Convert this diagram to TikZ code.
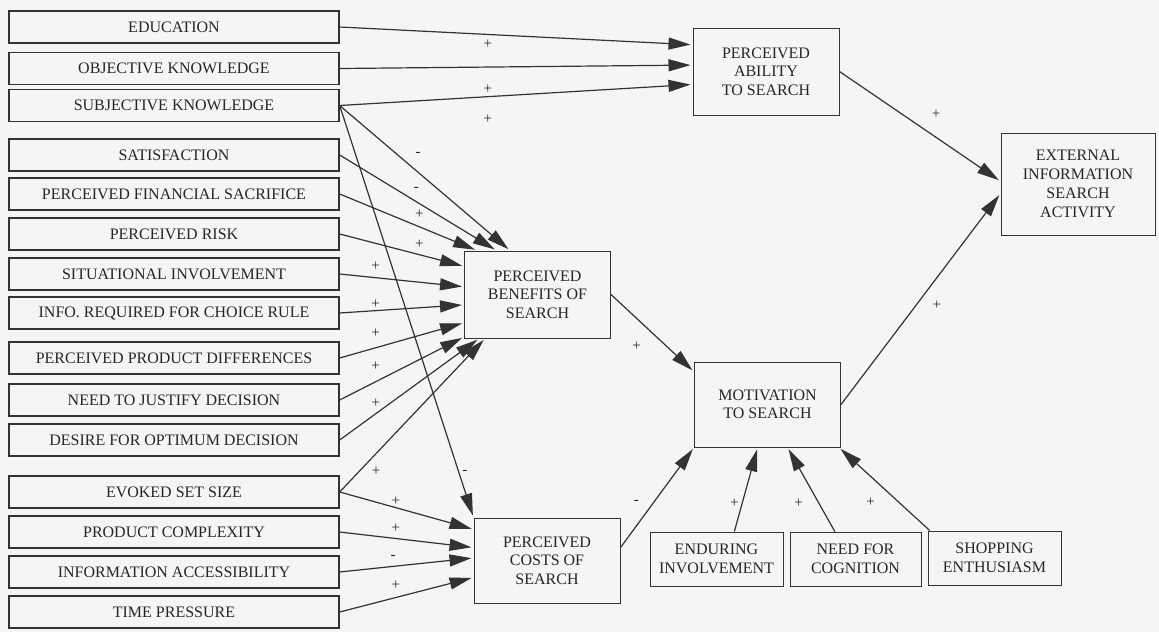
\documentclass[tikz,border=0pt]{standalone}
\usepackage{fontspec}
\setmainfont{Liberation Serif}
\usetikzlibrary{arrows.meta}

\begin{document}
\begin{tikzpicture}[x=1pt, y=-1pt,
	lb/.style={draw=black!80, line width=1.3pt, minimum width=330pt, minimum height=32pt, inner sep=0pt, text=black!85, font=\fontsize{16}{18.5}\selectfont},
	mb/.style={draw=black!80, line width=1pt, minimum width=146pt, minimum height=86pt, inner sep=0pt, align=center, text=black!85, font=\fontsize{16}{18.5}\selectfont},
	sb/.style={draw=black!80, line width=1pt, minimum width=133pt, minimum height=54pt, inner sep=0pt, align=center, text=black!85, font=\fontsize{16}{19.5}\selectfont},
	s/.style={inner sep=0pt, text=black!85, font=\fontsize{15}{15}\selectfont},
	a/.style={-{Triangle[length=22pt,width=12pt]}, very thick, black!80, shorten >=2pt}]
		\useasboundingbox (0,0) rectangle (1159,632);
		\fill[black!4] (0,0) rectangle (1159,632);

		\node [lb] (edu) at (174,27) {EDUCATION};
		\node [lb] (obj) at (174,68.5) {OBJECTIVE KNOWLEDGE};
		\node [lb] (sub) at (174,105.5) {SUBJECTIVE KNOWLEDGE};
		\node [lb] (sat) at (174,155) {SATISFACTION};
		\node [lb] (fin) at (174,194) {PERCEIVED FINANCIAL SACRIFICE};
		\node [lb] (rsk) at (174,234) {PERCEIVED RISK};
		\node [lb] (sit) at (174,274) {SITUATIONAL INVOLVEMENT};
		\node [lb] (inf) at (174,313) {INFO. REQUIRED FOR CHOICE RULE};
		\node [lb] (dif) at (174,358) {PERCEIVED PRODUCT DIFFERENCES};
		\node [lb] (jus) at (174,400) {NEED TO JUSTIFY DECISION};
		\node [lb] (opt) at (174,440) {DESIRE FOR OPTIMUM DECISION};
		\node [lb] (evk) at (174,492) {EVOKED SET SIZE};
		\node [lb] (cpx) at (174,532) {PRODUCT COMPLEXITY};
		\node [lb] (acc) at (174,572) {INFORMATION ACCESSIBILITY};
		\node [lb] (tim) at (174,612) {TIME PRESSURE};

		\node [mb, minimum height=87pt] (abl) at (766,71.5) {PERCEIVED\\ABILITY\\TO SEARCH};
		\node [mb, minimum height=87pt] (ben) at (537.5,294.5) {PERCEIVED\\BENEFITS OF\\SEARCH};
		\node [mb, minimum height=85pt] (cst) at (547,560.5) {PERCEIVED\\COSTS OF\\SEARCH};
		\node [mb, minimum height=85pt] (mot) at (767.5,404.5) {MOTIVATION\\TO SEARCH};
		\node [mb, minimum width=154pt, minimum height=102pt, font=\fontsize{16}{19}\selectfont] (ext) at (1078,184) {EXTERNAL\\INFORMATION\\SEARCH\\ACTIVITY};

		\node [sb] (end) at (716.5,559) {ENDURING\\INVOLVEMENT};
		\node [sb, minimum width=131pt] (nfc) at (855.5,559) {NEED FOR\\COGNITION};
		\node [sb] (shp) at (994.5,558) {SHOPPING\\ENTHUSIASM};

		\path[a] (edu.east) edge node [s, pos=.42, yshift=-10pt] {+} (abl.160);
		\path[a] (obj.east) edge node [s, pos=.42, yshift=-22pt] {+} (abl.175);
		\path[a] (sub.east) edge node [s, pos=.42, yshift=-23pt] {+} (abl.190);
		\path[a] (sub.east) edge node [s, pos=.46, yshift=18pt] {-} (ben.122);
		\path[a] (sub.east) edge node [s, pos=.89, xshift=6pt] {-} (cst.north west);
		\path[a] (sat.east) edge node [s, pos=.49, yshift=12pt] {-} (ben.133);
		\path[a] (fin.east) edge node [s, pos=.58, yshift=13pt] {+} (ben.144);
		\path[a] (rsk.east) edge node [s, pos=.64, yshift=10pt] {+} (ben.159);
		\path[a] (sit.east) edge node [s, pos=.29, yshift=11pt] {+} (ben.174);
		\path[a] (inf.east) edge node [s, pos=.29, yshift=6pt] {+} (ben.188);
		\path[a] (dif.east) edge node [s, pos=.29, yshift=15pt] {+} (ben.201);
		\path[a] (jus.east) edge node [s, pos=.29, yshift=15pt] {+} (ben.210);
		\path[a] (opt.east) edge node [s, pos=.26, yshift=10pt] {+} (ben.217);
		\path[a] (evk.east) edge node [s, pos=.25, yshift=-18pt] {+} (ben.220);
		\path[a] (evk.east) edge node [s, pos=.42, yshift=6pt] {+} (cst.157);
		\path[a] (cpx.east) edge node [s, pos=.42, yshift=10pt] {+} (cst.170);
		\path[a] (acc.east) edge node [s, pos=.4, yshift=9pt] {-} (cst.178);
		\path[a] (tim.east) edge node [s, pos=.42, yshift=12pt] {+} (cst.193);
		\path[a] (ben.east) edge node [s, pos=.5, xshift=-16pt, yshift=-13pt] {+} (mot.156);
		\path[a] (cst.10) edge node [s, pos=.5, xshift=-21pt, yshift=-5pt] {-} (mot.south west);
		\path[a] (end.57) edge node [s, pos=.3, xshift=-7pt, yshift=3pt] {+} (mot.257);
		\path[a] (nfc.127) edge node [s, pos=.3, xshift=-22pt, yshift=3pt] {+} (mot.295);
		\path[a] (shp.157) edge node [s, pos=.3, xshift=-32pt, yshift=3pt] {+} (mot.329);
		\path[a] (abl.east) edge node [s, pos=.5, xshift=16pt, yshift=12pt] {+} (ext.178);
		\path[a] (mot.east) edge node [s, pos=.5, xshift=16pt, yshift=-6pt] {+} (ext.187);
	\end{tikzpicture}
\end{document}
